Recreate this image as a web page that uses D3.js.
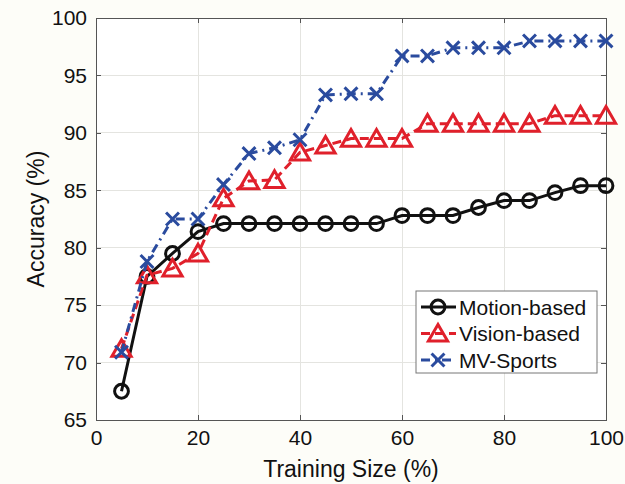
<!DOCTYPE html>
<html>
  <head>
    <meta charset="utf-8">
    <title>Accuracy vs Training Size</title>
    <style>
      body { margin: 0; background: #fdfdf8; }
      .chart { font-family: "Liberation Sans", Arial, sans-serif; }
      .axis path, .axis line { stroke: #555; shape-rendering: crispEdges; }
      .axis text { fill: #111; font-size: 21px; font-family: "Liberation Sans", Arial, sans-serif; }
      .grid line { stroke: #e4e4e0; shape-rendering: crispEdges; }
    </style>
  </head>
  <body>
    <div class="chart"></div>
    <script src="https://d3js.org/d3.v7.min.js"></script>
    <script>
      // Data
      var trainingSize = [5, 10, 15, 20, 25, 30, 35, 40, 45, 50, 55, 60, 65, 70, 75, 80, 85, 90, 95, 100];
      var motionBased = [67.5, 77.5, 79.5, 81.4, 82.1, 82.1, 82.1, 82.1, 82.1, 82.1, 82.1, 82.8, 82.8, 82.8, 83.5, 84.1, 84.1, 84.8, 85.4, 85.4];
      var visionBased = [71.2, 77.6, 78.2, 79.5, 84.3, 85.8, 85.9, 88.3, 88.9, 89.5, 89.5, 89.5, 90.8, 90.8, 90.8, 90.8, 90.8, 91.5, 91.5, 91.5];
      var mvSports   = [70.9, 78.8, 82.5, 82.5, 85.5, 88.2, 88.7, 89.4, 93.3, 93.4, 93.4, 96.7, 96.7, 97.4, 97.4, 97.4, 98.0, 98.0, 98.0, 98.0];
      var xTicks = [0, 20, 40, 60, 80, 100];
      var yTicks = [65, 70, 75, 80, 85, 90, 95, 100];

      var series = [
        {name: "Motion-based", values: motionBased, color: "#111111", dash: null, marker: "circle"},
        {name: "Vision-based", values: visionBased, color: "#e0202b", dash: "9,5", marker: "triangle"},
        {name: "MV-Sports", values: mvSports, color: "#2a4b9e", dash: "9,5,2,5", marker: "cross"}
      ];

      var margin = {top: 18, right: 19, bottom: 64, left: 96};
      var width = 625 - margin.left - margin.right;
      var height = 484 - margin.top - margin.bottom;

      var svg = d3.select(".chart").append("svg")
        .attr("width", 625)
        .attr("height", 484)
        .style("background", "#fdfdf8");

      var g = svg.append("g")
        .attr("transform", "translate(" + margin.left + "," + margin.top + ")");

      var x = d3.scaleLinear().domain([0, 100]).range([0, width]);
      var y = d3.scaleLinear().domain([65, 100]).range([height, 0]);

      g.append("rect").attr("width", width).attr("height", height).attr("fill", "#ffffff");

      // grid
      g.append("g").attr("class", "grid")
        .selectAll("line").data(xTicks.slice(1, -1)).enter().append("line")
        .attr("x1", function(d) { return x(d); }).attr("x2", function(d) { return x(d); })
        .attr("y1", 0).attr("y2", height);
      g.append("g").attr("class", "grid")
        .selectAll("line").data(yTicks.slice(1, -1)).enter().append("line")
        .attr("y1", function(d) { return y(d); }).attr("y2", function(d) { return y(d); })
        .attr("x1", 0).attr("x2", width);

      // axes (box like matlab)
      g.append("g").attr("class", "x axis")
        .attr("transform", "translate(0," + height + ")")
        .call(d3.axisBottom(x).tickValues(xTicks).tickSize(-5).tickSizeOuter(0).tickPadding(10));
      g.append("g").attr("class", "x axis")
        .call(d3.axisTop(x).tickValues(xTicks).tickSize(-5).tickSizeOuter(0).tickFormat(""));
      g.append("g").attr("class", "y axis")
        .call(d3.axisLeft(y).tickValues(yTicks).tickSize(-5).tickSizeOuter(0).tickPadding(9));
      g.append("g").attr("class", "y axis")
        .attr("transform", "translate(" + width + ",0)")
        .call(d3.axisRight(y).tickValues(yTicks).tickSize(-5).tickSizeOuter(0).tickFormat(""));

      // axis titles
      svg.append("text")
        .attr("x", margin.left + width / 2).attr("y", 477)
        .attr("text-anchor", "middle")
        .style("font-size", "23px").style("fill", "#111")
        .text("Training Size (%)");
      svg.append("text")
        .attr("transform", "translate(44," + (margin.top + height / 2) + ") rotate(-90)")
        .attr("text-anchor", "middle")
        .style("font-size", "23px").style("fill", "#111")
        .text("Accuracy (%)");

      var symbols = {
        circle: d3.symbol().type(d3.symbolCircle).size(150),
        triangle: d3.symbol().type(d3.symbolTriangle).size(160),
        cross: d3.symbol().type(d3.symbolX).size(110)
      };

      var line = d3.line()
        .x(function(d) { return x(d[0]); })
        .y(function(d) { return y(d[1]); });

      function drawMarker(sel, s) {
        sel.attr("d", symbols[s.marker]())
          .attr("fill", s.marker === "cross" ? s.color : "none")
          .attr("stroke", s.color)
          .attr("stroke-width", 3);
      }

      series.forEach(function(s) {
        var pts = trainingSize.map(function(t, i) { return [t, s.values[i]]; });
        g.append("path")
          .datum(pts)
          .attr("fill", "none")
          .attr("stroke", s.color)
          .attr("stroke-width", 3)
          .attr("stroke-dasharray", s.dash)
          .attr("d", line);
        g.selectAll(".m-" + s.marker).data(pts).enter().append("path")
          .attr("class", "m-" + s.marker)
          .attr("transform", function(d) {
            var off = s.marker === "triangle" ? 2 : 0;
            return "translate(" + x(d[0]) + "," + (y(d[1]) + off) + ")";
          })
          .call(drawMarker, s);
      });

      // legend
      var lg = svg.append("g").attr("transform", "translate(416,291)");
      lg.append("rect").attr("width", 181).attr("height", 82)
        .attr("fill", "#ffffff").attr("stroke", "#777").attr("stroke-width", 1);
      series.forEach(function(s, i) {
        var ly = 16 + i * 26.5;
        lg.append("line")
          .attr("x1", 5).attr("x2", 40).attr("y1", ly).attr("y2", ly)
          .attr("stroke", s.color).attr("stroke-width", 3)
          .attr("stroke-dasharray", s.dash);
        lg.append("path")
          .attr("transform", "translate(22," + (ly + (s.marker === "triangle" ? 2 : 0)) + ")")
          .call(drawMarker, s);
        lg.append("text")
          .attr("x", 43).attr("y", ly).attr("dy", "0.36em")
          .style("font-size", "21px").style("fill", "#111")
          .text(s.name);
      });
    </script>
  </body>
</html>
